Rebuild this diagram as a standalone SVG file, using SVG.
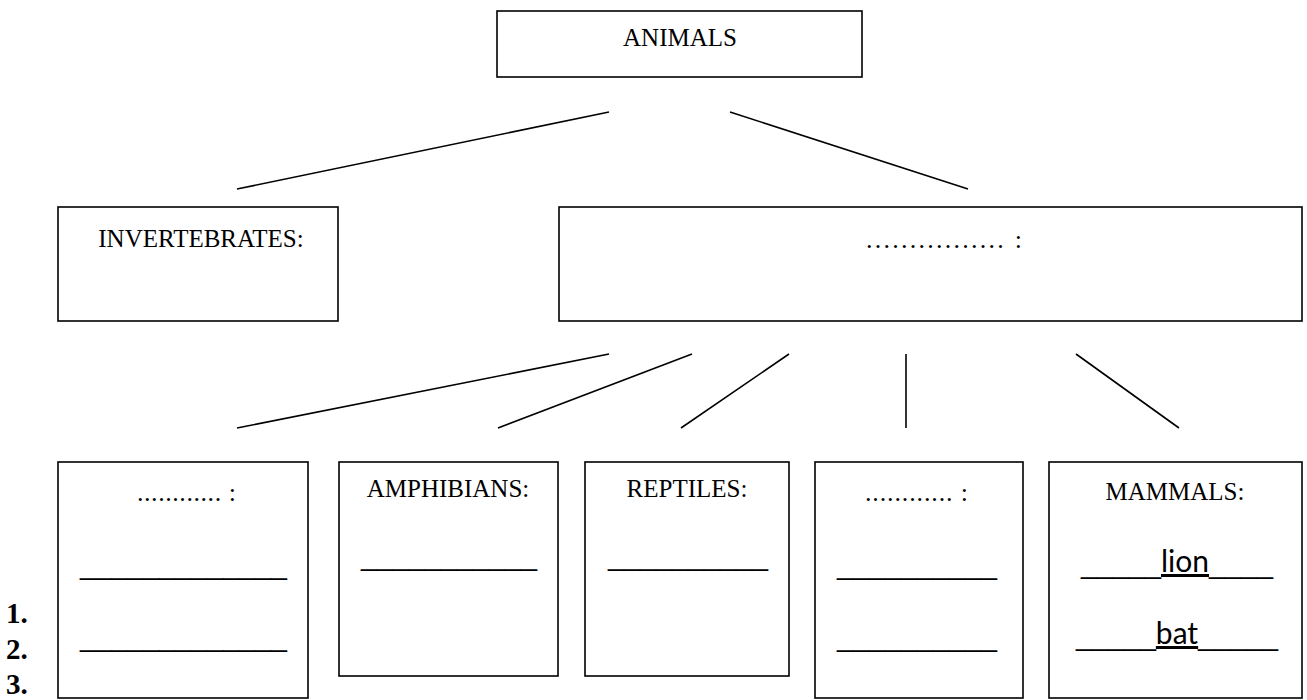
<svg xmlns="http://www.w3.org/2000/svg" width="1307" height="700" viewBox="0 0 1307 700">
<style>
.box{fill:#fff;stroke:#000;stroke-width:1.6}
.t{font-family:"Liberation Serif","Times New Roman",serif;font-size:25px;fill:#000;text-anchor:middle}
.d{font-family:"Liberation Serif","Times New Roman",serif;font-size:26px;fill:#000}
.u{font-family:"Liberation Sans",Arial,sans-serif;font-size:28px;fill:#000}
.w{font-family:Lato,"Open Sans",sans-serif;font-size:30px;fill:#000;text-decoration:underline}
.n{font-family:"Liberation Serif","Times New Roman",serif;font-size:29px;font-weight:bold;fill:#000}
.c line{stroke:#000;stroke-width:1.6}
</style>
<rect width="1307" height="700" fill="#fff"/>
<g class="c" id="connectors">
<line x1="609" y1="112" x2="237" y2="189"/>
<line x1="730" y1="112" x2="968" y2="189"/>
<line x1="609" y1="354" x2="237" y2="428"/>
<line x1="692" y1="354" x2="498" y2="428"/>
<line x1="789" y1="354" x2="681" y2="428"/>
<line x1="906" y1="354" x2="906" y2="428"/>
<line x1="1076" y1="354" x2="1179" y2="428"/>
</g>
<g id="animals">
<rect class="box" x="497" y="11" width="365" height="66"/>
<text class="t" x="680" y="46">ANIMALS</text>
</g>
<g id="invertebrates">
<rect class="box" x="58" y="207" width="280" height="114"/>
<text class="t" x="201" y="247">INVERTEBRATES:</text>
</g>
<g id="vertebrates">
<rect class="box" x="559" y="207" width="743" height="114"/>
<text class="d" x="866" y="248" textLength="156" lengthAdjust="spacing">................ :</text>
</g>
<g id="fish">
<rect class="box" x="58" y="462" width="250" height="236"/>
<text class="d" x="137" y="501" textLength="99" lengthAdjust="spacing">............ :</text>
<text class="u" x="80" y="574" textLength="207" lengthAdjust="spacingAndGlyphs">_____________</text>
<text class="u" x="80" y="646" textLength="207" lengthAdjust="spacingAndGlyphs">_____________</text>
</g>
<g id="amphibians">
<rect class="box" x="339" y="462" width="219" height="214"/>
<text class="t" x="448" y="497">AMPHIBIANS:</text>
<text class="u" x="361" y="565" textLength="176" lengthAdjust="spacingAndGlyphs">___________</text>
</g>
<g id="reptiles">
<rect class="box" x="585" y="462" width="204" height="214"/>
<text class="t" x="687" y="497">REPTILES:</text>
<text class="u" x="608" y="565" textLength="160" lengthAdjust="spacingAndGlyphs">__________</text>
</g>
<g id="birds">
<rect class="box" x="815" y="462" width="208" height="236"/>
<text class="d" x="865" y="501" textLength="103" lengthAdjust="spacing">............ :</text>
<text class="u" x="837" y="574" textLength="160" lengthAdjust="spacingAndGlyphs">__________</text>
<text class="u" x="837" y="646" textLength="160" lengthAdjust="spacingAndGlyphs">__________</text>
</g>
<g id="mammals">
<rect class="box" x="1049" y="462" width="253" height="236"/>
<text class="t" x="1175" y="500">MAMMALS:</text>
<text class="u" x="1081" y="573" textLength="80" lengthAdjust="spacingAndGlyphs">_____</text>
<text class="w" x="1185" y="572" text-anchor="middle">lion</text>
<text class="u" x="1209" y="573" textLength="64" lengthAdjust="spacingAndGlyphs">____</text>
<text class="u" x="1076" y="645" textLength="80" lengthAdjust="spacingAndGlyphs">_____</text>
<text class="w" x="1177" y="644" text-anchor="middle">bat</text>
<text class="u" x="1198" y="645" textLength="80" lengthAdjust="spacingAndGlyphs">_____</text>
</g>
<g id="numbers">
<text class="n" x="6" y="623">1.</text>
<text class="n" x="6" y="659">2.</text>
<text class="n" x="6" y="694">3.</text>
</g>
</svg>
